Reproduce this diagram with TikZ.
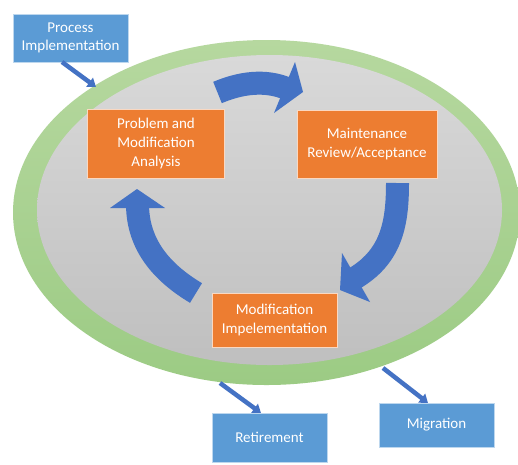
\documentclass[tikz,border=0pt]{standalone}
\usepackage{fontspec}
\setmainfont{Carlito}
\usetikzlibrary{arrows.meta}
\definecolor{orangebox}{HTML}{ED7D31}
\definecolor{bluebox}{HTML}{5B9BD5}
\definecolor{arrowblue}{HTML}{4472C4}
\definecolor{ringgreen}{HTML}{A9D18E}
\definecolor{ringgreendark}{HTML}{9CCB84}
\definecolor{graytop}{HTML}{D9D9D9}
\definecolor{graybot}{HTML}{BFBFBF}
\begin{document}
\begin{tikzpicture}[x=1pt,y=-1pt,
  obox/.style={fill=orangebox,draw=white!70!orangebox,line width=1pt,text=white,
    align=center,inner sep=0pt,font=\fontsize{15}{19}\selectfont},
  bbox/.style={fill=bluebox,draw=white!60!bluebox,line width=0.8pt,text=white,
    align=center,inner sep=0pt,font=\fontsize{15}{18}\selectfont},
  bigband/.style={draw=arrowblue,line width=23pt,line cap=butt},
  bighead/.style={fill=arrowblue},
  smallarr/.style={draw=arrowblue,line width=4.5pt,-{Triangle[length=8pt,width=11pt]}}]
\useasboundingbox (0,0) rectangle (518,464);
\clip (0,0) rectangle (518,464);
\fill[white] (0,0) rectangle (518,464);
% ring and inner ellipse
\shade[top color=ringgreen!85!white,bottom color=ringgreendark] (266.5,212.5) ellipse [x radius=253.5, y radius=172.5];
\shade[top color=graytop,bottom color=graybot] (269.5,210) ellipse [x radius=232.5, y radius=155];
% boxes
\node[obox,minimum width=137pt,minimum height=69pt] (pma) at (156,143.5) {Problem and\\Modification\\Analysis};
\node[obox,minimum width=140pt,minimum height=68pt] (mra) at (367,144) {Maintenance\\Review/Acceptance};
\node[obox,minimum width=125pt,minimum height=54pt] (mi) at (274.5,320) {Modification\\Impelementation};
\node[bbox,minimum width=115pt,minimum height=48pt] (pi) at (70.5,38) {Process\\Implementation};
\node[bbox,minimum width=115pt,minimum height=49pt] (ret) at (269.5,437.5) {Retirement};
\node[bbox,minimum width=115pt,minimum height=44pt] (mig) at (436.5,425) {Migration};
% big cycle arrows
\coordinate (a1tail) at (217.5,92.5);
\coordinate (a1base) at (288,89);
\coordinate (a1b1) at (295,62);
\coordinate (a1tip) at (303,92);
\coordinate (a1b2) at (274,113);
\draw[bigband] (a1tail) .. controls (240,83) and (265,79) .. (a1base);
\fill[bighead] (a1b1) -- (a1tip) -- (a1b2) -- cycle;
\coordinate (a2tail) at (397.5,183);
\coordinate (a2base) at (352.5,279.5);
\coordinate (a2b1) at (342,253);
\coordinate (a2tip) at (340,290);
\coordinate (a2b2) at (370,302);
\draw[bigband] (a2tail) .. controls (397.5,225) and (391,257.5) .. (a2base);
\fill[bighead] (a2b1) -- (a2tip) -- (a2b2) -- cycle;
\coordinate (a3tail) at (196,293);
\coordinate (a3base) at (137.5,204);
\coordinate (a3b1) at (110,208);
\coordinate (a3tip) at (137,189);
\coordinate (a3b2) at (165,208);
\draw[bigband] (a3tail) .. controls (166,275) and (137.5,248) .. (a3base);
\fill[bighead] (a3b1) -- (a3tip) -- (a3b2) -- cycle;
% small arrows
\coordinate (piout) at (62,62);
\coordinate (ringin) at (96,87);
\coordinate (retout) at (220,383);
\coordinate (migout) at (383,368);
\coordinate (retin) at (261,413);
\coordinate (migin) at (428,403);
\draw[smallarr] (piout) -- (ringin);
\draw[smallarr] (retout) -- (retin);
\draw[smallarr] (migout) -- (migin);
\end{tikzpicture}
\end{document}
